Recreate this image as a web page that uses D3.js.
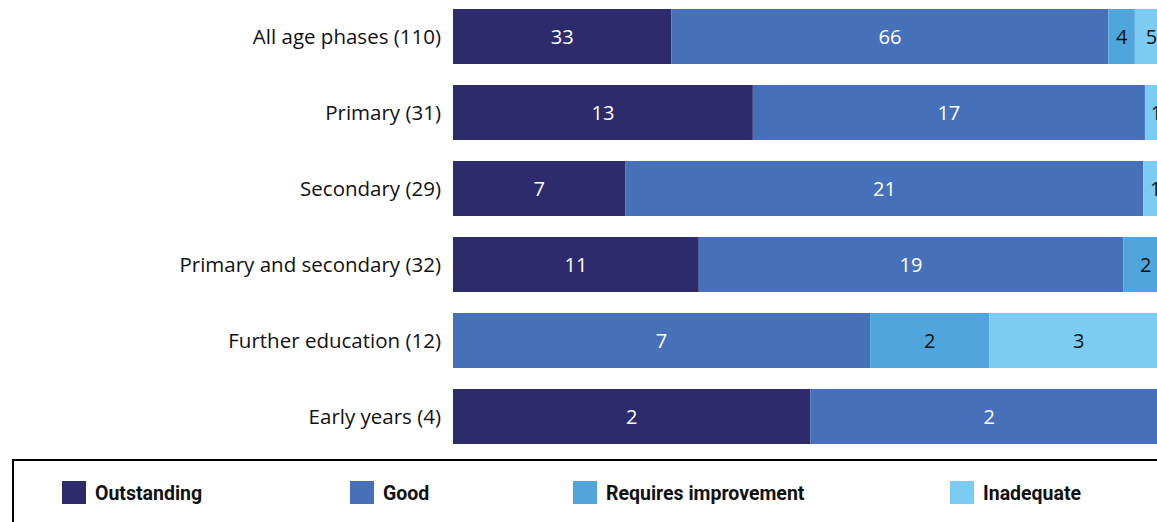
<!DOCTYPE html>
<html>
<head>
<meta charset="utf-8">
<script src="https://cdn.jsdelivr.net/npm/d3@7"></script>
<style>
  body { margin: 0; background: #fff; overflow: hidden; }
  svg { display: block; }
  .label { font-family: "Open Sans", sans-serif; font-size: 20.5px; fill: #111; }
  .value { font-family: "Open Sans", sans-serif; font-size: 20px; }
  .legend text { font-family: Roboto, "Open Sans", sans-serif; font-weight: bold; font-size: 19.5px; fill: #111; }
</style>
</head>
<body>
<div id="chart"></div>
<script>
// Data
const categories = ['All age phases (110)', 'Primary (31)', 'Secondary (29)', 'Primary and secondary (32)', 'Further education (12)', 'Early years (4)']
const keys = ['Outstanding', 'Good', 'Requires improvement', 'Inadequate']
const outstanding = [33, 13, 7, 11, 0, 2]
const good = [66, 17, 21, 19, 7, 2]
const requiresImprovement = [4, 0, 0, 2, 2, 0]
const inadequate = [5, 1, 1, 0, 3, 0]
const colors = ['#2e2b6d', '#4671b8', '#50a6dc', '#7ccbf1']
const textColors = ['#fff', '#fff', '#111', '#111']

const dataset = categories.map((c, i) => ({
  category: c,
  'Outstanding': outstanding[i],
  'Good': good[i],
  'Requires improvement': requiresImprovement[i],
  'Inadequate': inadequate[i],
}))

// Dimensions
const dimensions = {
  width: 1157,
  height: 522,
  barLeft: 453,
  barWidth: 715,
  top: 9,
  bandStep: 76,
  barHeight: 55,
}
const innerPad = (dimensions.bandStep - dimensions.barHeight) / dimensions.bandStep

const svg = d3.select('#chart')
  .append('svg')
  .attr('width', dimensions.width)
  .attr('height', dimensions.height)

// Scales
const yScale = d3.scaleBand()
  .domain(categories)
  .range([dimensions.top, dimensions.top + dimensions.bandStep * (categories.length - innerPad)])
  .paddingInner(innerPad)
  .paddingOuter(0)

// normalise every row to its own total
const stacked = d3.stack()
  .keys(keys)
  .offset(d3.stackOffsetExpand)(dataset)

const xScale = d3.scaleLinear()
  .domain([0, 1])
  .range([dimensions.barLeft, dimensions.barLeft + dimensions.barWidth])

// Labels
svg.append('g')
  .selectAll('text')
  .data(categories)
  .join('text')
  .classed('label', true)
  .attr('x', dimensions.barLeft - 12)
  .attr('y', d => yScale(d) + yScale.bandwidth() / 2)
  .attr('dy', '0.36em')
  .attr('text-anchor', 'end')
  .text(d => d)

// Bars
const layers = svg.append('g')
  .selectAll('g')
  .data(stacked)
  .join('g')
  .attr('fill', (d, i) => colors[i])

layers.selectAll('rect')
  .data(d => d.filter(p => p.data[d.key] > 0))
  .join('rect')
  .attr('x', d => xScale(d[0]))
  .attr('y', d => yScale(d.data.category))
  .attr('width', d => xScale(d[1]) - xScale(d[0]))
  .attr('height', yScale.bandwidth())

layers.each(function (layer, i) {
  d3.select(this).selectAll('text')
    .data(layer.filter(p => p.data[layer.key] > 0))
    .join('text')
    .classed('value', true)
    .attr('fill', textColors[i])
    .attr('x', d => (xScale(d[0]) + xScale(d[1])) / 2)
    .attr('y', d => yScale(d.data.category) + yScale.bandwidth() / 2)
    .attr('dy', '0.36em')
    .attr('text-anchor', 'middle')
    .text(d => d.data[layer.key])
})

// Legend
const legend = svg.append('g').classed('legend', true)

legend.append('rect')
  .attr('x', 13)
  .attr('y', 460)
  .attr('width', 1200)
  .attr('height', 100)
  .attr('fill', 'none')
  .attr('stroke', '#000')
  .attr('stroke-width', 2)

const legendX = [62, 350, 573, 950]
const items = legend.selectAll('g.item')
  .data(keys)
  .join('g')
  .attr('class', 'item')
  .attr('transform', (d, i) => `translate(${legendX[i]}, 481)`)

items.append('rect')
  .attr('width', 24)
  .attr('height', 23)
  .attr('fill', (d, i) => colors[i])

items.append('text')
  .attr('x', 33)
  .attr('y', 11.5)
  .attr('dy', '0.36em')
  .text(d => d)
</script>
</body>
</html>
